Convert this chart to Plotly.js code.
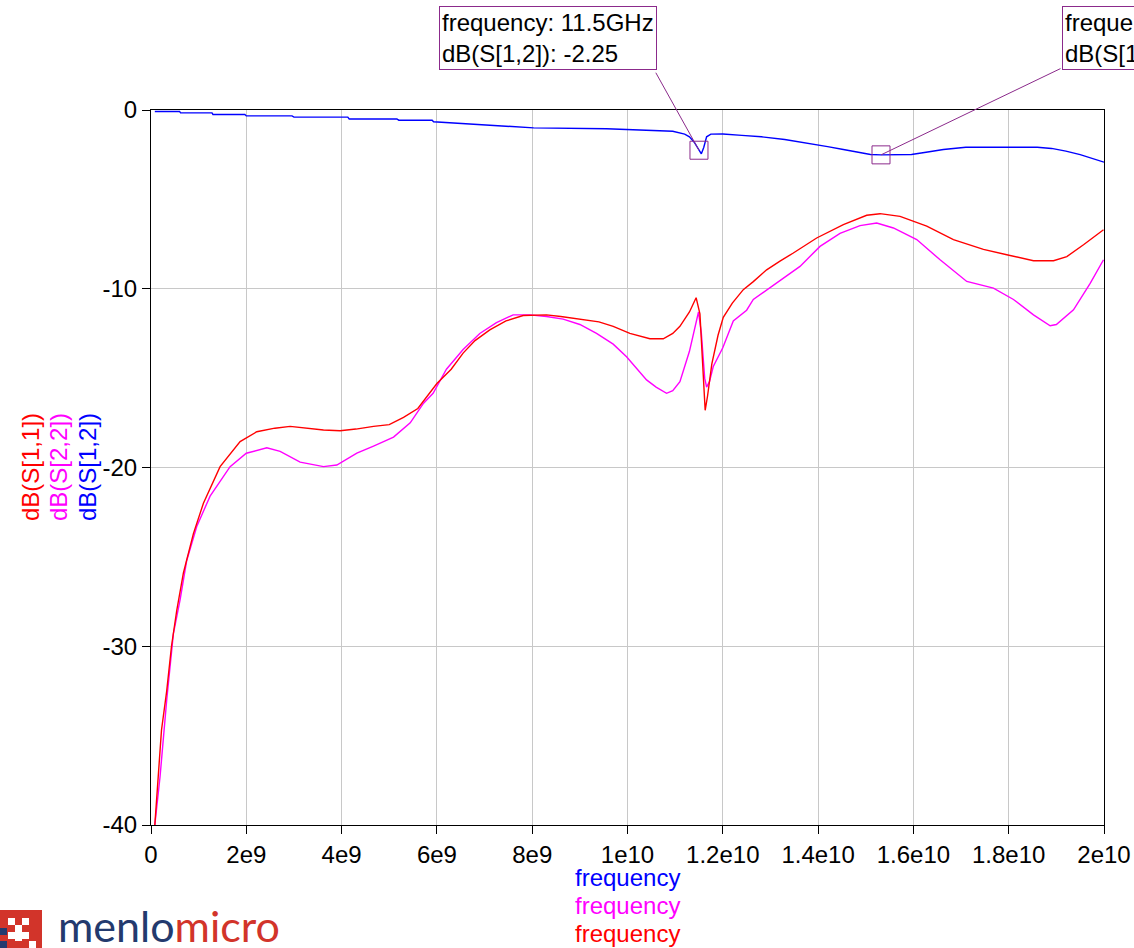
<!DOCTYPE html>
<html>
<head>
<meta charset="utf-8">
<script src="https://cdn.plot.ly/plotly-3.0.1.min.js"></script>
<style>html,body{margin:0;padding:0;background:#fff;}#chart{width:1134px;height:948px;}</style>
</head>
<body>
<div id="chart"></div>
<script>
// Frequency in GHz, values in dB
const s12Freq = [0.08,0.6,0.62,1.28,1.3,1.97,2.0,2.96,3.0,4.13,4.16,5.16,5.2,5.9,5.93,6.98,8.03,9.56,10.5,10.95,11.2,11.3,11.4,11.5,11.55,11.6,11.66,11.75,12.0,12.4,12.81,13.3,13.77,14.2,14.53,14.8,15.1,15.32,15.5,15.96,16.3,16.63,17.1,18.0,18.6,18.9,19.2,19.5,19.8,20.0];
const s12Db   = [-0.08,-0.08,-0.16,-0.16,-0.25,-0.25,-0.33,-0.33,-0.4,-0.4,-0.5,-0.5,-0.57,-0.57,-0.66,-0.85,-1.0,-1.05,-1.12,-1.19,-1.35,-1.5,-1.8,-2.25,-2.45,-2.1,-1.5,-1.35,-1.34,-1.42,-1.5,-1.65,-1.84,-2.05,-2.21,-2.35,-2.49,-2.51,-2.5,-2.49,-2.35,-2.21,-2.08,-2.06,-2.08,-2.15,-2.3,-2.5,-2.75,-2.92];

const s22Freq = [0.08,0.19,0.33,0.47,0.61,0.75,0.96,1.24,1.66,2.0,2.43,2.71,3.13,3.62,3.9,4.32,4.67,5.09,5.44,5.72,5.92,6.2,6.55,6.9,7.25,7.6,7.95,8.3,8.65,9.0,9.35,9.7,9.98,10.2,10.4,10.6,10.82,10.95,11.1,11.3,11.49,11.55,11.62,11.66,11.72,11.8,12.0,12.22,12.5,12.64,13.13,13.62,14.04,14.46,14.88,15.23,15.58,16.07,16.56,17.12,17.68,18.1,18.52,18.87,19.0,19.36,19.71,19.99];
const s22Db   = [-40,-37.3,-33.0,-29.3,-27.4,-25.2,-23.3,-21.6,-19.95,-19.2,-18.9,-19.1,-19.7,-19.95,-19.86,-19.2,-18.8,-18.3,-17.5,-16.4,-15.85,-14.5,-13.4,-12.5,-11.9,-11.46,-11.46,-11.55,-11.7,-12.0,-12.5,-13.1,-13.8,-14.5,-15.1,-15.5,-15.85,-15.7,-15.2,-13.5,-11.3,-12.5,-15.0,-15.5,-15.2,-14.35,-13.3,-11.8,-11.2,-10.6,-9.7,-8.75,-7.63,-6.9,-6.47,-6.32,-6.6,-7.25,-8.38,-9.59,-9.96,-10.6,-11.46,-12.07,-12.0,-11.18,-9.7,-8.38];

const s11Freq = [0.08,0.12,0.22,0.33,0.43,0.54,0.68,0.89,1.10,1.45,1.87,2.22,2.6,2.92,3.3,3.62,3.97,4.3,4.67,5.0,5.3,5.6,6.0,6.3,6.55,6.8,7.11,7.45,7.81,8.3,8.6,9.0,9.4,9.7,10.05,10.47,10.75,10.95,11.1,11.3,11.44,11.52,11.58,11.63,11.68,11.77,11.9,12.01,12.2,12.43,12.64,12.92,13.2,13.48,13.97,14.53,15.02,15.3,15.72,16.28,16.84,17.47,17.96,18.52,18.94,19.22,19.57,19.99];
const s11Db   = [-40,-38.3,-34.7,-32.5,-30.0,-28.0,-25.9,-23.7,-22.0,-19.95,-18.55,-18.0,-17.8,-17.7,-17.8,-17.9,-17.94,-17.85,-17.7,-17.6,-17.2,-16.7,-15.3,-14.5,-13.6,-12.9,-12.3,-11.8,-11.5,-11.46,-11.55,-11.7,-11.85,-12.1,-12.5,-12.8,-12.8,-12.5,-12.1,-11.3,-10.5,-11.4,-14.0,-16.8,-16.0,-14.2,-12.6,-11.6,-10.8,-10.05,-9.6,-8.94,-8.45,-8.0,-7.16,-6.41,-5.89,-5.8,-5.95,-6.5,-7.25,-7.8,-8.1,-8.43,-8.43,-8.2,-7.54,-6.7];

const markerFreq = [11.5, 15.32];
const markerDb   = [-2.25, -2.51];
const markerText = ['frequency: 11.5GHz<br>dB(S[1,2]): -2.25', 'frequency: 15.3GHz<br>dB(S[1,2]): -2.51'];

const xTickVals = [0,2,4,6,8,10,12,14,16,18,20];
const xTickText = ['0','2e9','4e9','6e9','8e9','1e10','1.2e10','1.4e10','1.6e10','1.8e10','2e10'];
const yTickVals = [0,-10,-20,-30,-40];
const yTickText = ['0','-10','-20','-30','-40'];

const yTitles = ['dB(S[1,1])','dB(S[2,2])','dB(S[1,2])'];
const xTitles = ['frequency','frequency','frequency'];

const FONT = 'Liberation Sans, Arial, sans-serif';
const BLUE = '#0000ff', MAG = '#ff00ff', RED = '#ff0000', PURPLE = '#8b2a8b';
const FS = 24;

const traces = [
  {x: s12Freq, y: s12Db, mode: 'lines', line: {color: BLUE, width: 1.4}, name: 'dB(S[1,2])'},
  {x: s22Freq, y: s22Db, mode: 'lines', line: {color: MAG, width: 1.4}, name: 'dB(S[2,2])'},
  {x: s11Freq, y: s11Db, mode: 'lines', line: {color: RED, width: 1.4}, name: 'dB(S[1,1])'}
];

const W = 1134, H = 948, ML = 151, MR = 30, MT = 110, MB = 123;
const PW = W - ML - MR, PH = H - MT - MB;
const px = v => (v - ML) / PW;          // pixel x -> paper
const py = v => (H - MB - v) / PH;      // pixel y -> paper

const annotations = [];
const yCols = [RED, MAG, BLUE];
const yPos = [30, 58, 87];
yTitles.forEach((t, i) => annotations.push({
  text: t, xref: 'paper', yref: 'paper', x: px(yPos[i]), y: py(467),
  xanchor: 'center', yanchor: 'middle', textangle: -90, showarrow: false,
  font: {family: FONT, size: FS, color: yCols[i]}
}));
const xCols = [BLUE, MAG, RED];
const xPos = [877, 905, 933];
xTitles.forEach((t, i) => annotations.push({
  text: t, xref: 'paper', yref: 'paper', x: 0.5, y: py(xPos[i]),
  xanchor: 'center', yanchor: 'middle', showarrow: false,
  font: {family: FONT, size: FS, color: xCols[i]}
}));
const boxLeft = [439, 1062];
const tailOff = [[-44, -79], [181, -87]];
markerFreq.forEach((f, i) => {
  annotations.push({
    text: markerText[i], xref: 'paper', yref: 'paper', x: px(boxLeft[i]), y: py(6),
    xanchor: 'left', yanchor: 'top', align: 'left', showarrow: false,
    bgcolor: '#ffffff', bordercolor: PURPLE, borderwidth: 1, borderpad: 2,
    font: {family: FONT, size: FS, color: '#000'}
  });
  annotations.push({
    text: '', x: f, y: markerDb[i], xref: 'x', yref: 'y',
    showarrow: true, arrowhead: 0, arrowwidth: 1, arrowcolor: PURPLE,
    ax: tailOff[i][0], ay: tailOff[i][1], standoff: 0
  });
});
annotations.push({
  text: '<span style="color:#233a6e">menlo</span><span style="color:#d2342a">micro</span>',
  xref: 'paper', yref: 'paper', x: px(56), y: py(926), xanchor: 'left', yanchor: 'middle',
  showarrow: false, font: {family: 'Lato, Open Sans, sans-serif', size: 43}
});

const shapes = [];
markerFreq.forEach((f, i) => shapes.push({
  type: 'rect', xref: 'x', yref: 'y', xsizemode: 'pixel', ysizemode: 'pixel',
  xanchor: f, yanchor: markerDb[i], x0: -9, x1: 9, y0: -9, y1: 9,
  line: {color: PURPLE, width: 1}, fillcolor: 'rgba(0,0,0,0)'
}));
const iconRects = [
  [0, 910, 42, 948, '#d2342a'],
  [8, 918, 15, 925, '#ffffff'],
  [22, 918, 29, 925, '#ffffff'],
  [15, 925, 22, 941, '#ffffff'],
  [8, 932, 29, 939, '#ffffff'],
  [0, 928, 7, 935, '#233a6e'],
  [0, 941, 7, 948, '#233a6e'],
  [29, 941, 36, 948, '#ffffff']
];
iconRects.forEach(r => shapes.push({
  type: 'rect', xref: 'paper', yref: 'paper', xsizemode: 'pixel', ysizemode: 'pixel',
  xanchor: 0, yanchor: 0, x0: r[0] - ML, x1: r[2] - ML, y0: (H - MB) - r[3], y1: (H - MB) - r[1],
  line: {width: 0}, fillcolor: r[4]
}));

const axisCommon = {
  showline: true, linecolor: '#000', linewidth: 1, mirror: true,
  showgrid: true, gridcolor: '#c8c8c8', gridwidth: 1, zeroline: false,
  ticks: 'outside', ticklen: 8, tickcolor: '#000', tickwidth: 1,
  tickfont: {family: FONT, size: FS, color: '#000'}
};

const layout = {
  width: W, height: H,
  margin: {l: ML, r: MR, t: MT, b: MB, pad: 0},
  paper_bgcolor: '#fff', plot_bgcolor: '#fff',
  showlegend: false,
  font: {family: FONT, size: FS, color: '#000'},
  xaxis: Object.assign({}, axisCommon, {range: [0, 20], tickmode: 'array', tickvals: xTickVals, ticktext: xTickText}),
  yaxis: Object.assign({}, axisCommon, {range: [-40, 0], tickmode: 'array', tickvals: yTickVals, ticktext: yTickText}),
  annotations: annotations,
  shapes: shapes
};

Plotly.newPlot('chart', traces, layout, {displayModeBar: false, staticPlot: true});
</script>
</body>
</html>
